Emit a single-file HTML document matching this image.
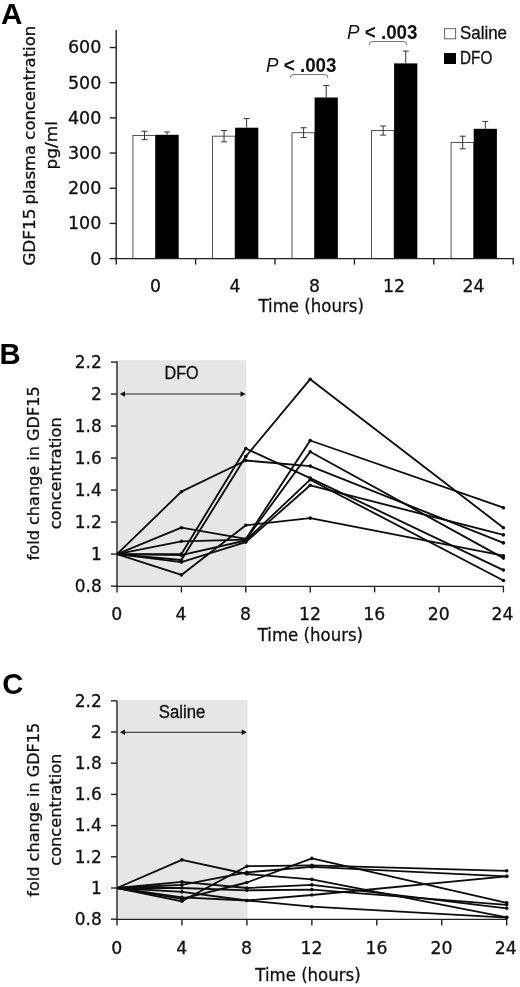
<!DOCTYPE html>
<html lang="en"><head><meta charset="utf-8"><title>GDF15 plasma concentration figure</title>
<style>
html,body{margin:0;padding:0;background:#fff;}
svg{display:block;}
text{white-space:pre;}
</style></head>
<body>
<svg width="520" height="987" viewBox="0 0 520 987">
<rect width="520" height="987" fill="#fff"/>
<text x="1.1" y="23.7" font-size="29.6" font-family='"Liberation Sans",sans-serif' text-anchor="start" fill="#000" font-weight="bold" >A</text>
<rect x="132.9" y="135.5" width="22.6" height="123.1" fill="#fff" stroke="#555" stroke-width="1"/>
<rect x="155.5" y="134.8" width="23.2" height="123.8" fill="#000"/>
<line x1="144.50" y1="131.25" x2="144.50" y2="139.69" stroke="#333" stroke-width="1" />
<line x1="141.50" y1="131.25" x2="147.50" y2="131.25" stroke="#333" stroke-width="1" />
<line x1="141.50" y1="139.69" x2="147.50" y2="139.69" stroke="#333" stroke-width="1" />
<line x1="167.10" y1="131.95" x2="167.10" y2="134.77" stroke="#333" stroke-width="1" />
<line x1="164.10" y1="131.95" x2="170.10" y2="131.95" stroke="#333" stroke-width="1" />
<rect x="212.5" y="136.2" width="22.6" height="122.4" fill="#fff" stroke="#555" stroke-width="1"/>
<rect x="235.1" y="127.7" width="23.2" height="130.9" fill="#000"/>
<line x1="224.05" y1="130.54" x2="224.05" y2="141.80" stroke="#333" stroke-width="1" />
<line x1="221.05" y1="130.54" x2="227.05" y2="130.54" stroke="#333" stroke-width="1" />
<line x1="221.05" y1="141.80" x2="227.05" y2="141.80" stroke="#333" stroke-width="1" />
<line x1="246.65" y1="118.58" x2="246.65" y2="127.73" stroke="#333" stroke-width="1" />
<line x1="243.65" y1="118.58" x2="249.65" y2="118.58" stroke="#333" stroke-width="1" />
<rect x="292.0" y="132.7" width="22.6" height="125.9" fill="#fff" stroke="#555" stroke-width="1"/>
<rect x="314.6" y="97.5" width="23.2" height="161.1" fill="#000"/>
<line x1="303.60" y1="127.73" x2="303.60" y2="137.58" stroke="#333" stroke-width="1" />
<line x1="300.60" y1="127.73" x2="306.60" y2="127.73" stroke="#333" stroke-width="1" />
<line x1="300.60" y1="137.58" x2="306.60" y2="137.58" stroke="#333" stroke-width="1" />
<line x1="326.20" y1="85.51" x2="326.20" y2="97.48" stroke="#333" stroke-width="1" />
<line x1="323.20" y1="85.51" x2="329.20" y2="85.51" stroke="#333" stroke-width="1" />
<rect x="371.5" y="130.5" width="22.6" height="128.1" fill="#fff" stroke="#555" stroke-width="1"/>
<rect x="394.1" y="63.4" width="23.2" height="195.2" fill="#000"/>
<line x1="383.15" y1="125.97" x2="383.15" y2="135.12" stroke="#333" stroke-width="1" />
<line x1="380.15" y1="125.97" x2="386.15" y2="125.97" stroke="#333" stroke-width="1" />
<line x1="380.15" y1="135.12" x2="386.15" y2="135.12" stroke="#333" stroke-width="1" />
<line x1="405.75" y1="51.04" x2="405.75" y2="63.35" stroke="#333" stroke-width="1" />
<line x1="402.75" y1="51.04" x2="408.75" y2="51.04" stroke="#333" stroke-width="1" />
<rect x="451.1" y="142.5" width="22.6" height="116.1" fill="#fff" stroke="#555" stroke-width="1"/>
<rect x="473.7" y="128.8" width="23.2" height="129.8" fill="#000"/>
<line x1="462.70" y1="136.17" x2="462.70" y2="148.84" stroke="#333" stroke-width="1" />
<line x1="459.70" y1="136.17" x2="465.70" y2="136.17" stroke="#333" stroke-width="1" />
<line x1="459.70" y1="148.84" x2="465.70" y2="148.84" stroke="#333" stroke-width="1" />
<line x1="485.30" y1="121.40" x2="485.30" y2="128.79" stroke="#333" stroke-width="1" />
<line x1="482.30" y1="121.40" x2="488.30" y2="121.40" stroke="#333" stroke-width="1" />
<line x1="116.20" y1="30.00" x2="116.20" y2="259.20" stroke="#222" stroke-width="1.4" />
<line x1="115.50" y1="258.60" x2="513.80" y2="258.60" stroke="#222" stroke-width="1.4" />
<line x1="109.70" y1="258.60" x2="116.20" y2="258.60" stroke="#222" stroke-width="1.4" />
<text x="101.3" y="264.5" font-size="17.5" font-family='"DejaVu Sans","Liberation Sans",sans-serif' text-anchor="end" fill="#111" stroke="#111" stroke-width="0.3" >0</text>
<line x1="109.70" y1="223.42" x2="116.20" y2="223.42" stroke="#222" stroke-width="1.4" />
<text x="101.3" y="229.32" font-size="17.5" font-family='"DejaVu Sans","Liberation Sans",sans-serif' text-anchor="end" fill="#111" stroke="#111" stroke-width="0.3" >100</text>
<line x1="109.70" y1="188.24" x2="116.20" y2="188.24" stroke="#222" stroke-width="1.4" />
<text x="101.3" y="194.14" font-size="17.5" font-family='"DejaVu Sans","Liberation Sans",sans-serif' text-anchor="end" fill="#111" stroke="#111" stroke-width="0.3" >200</text>
<line x1="109.70" y1="153.06" x2="116.20" y2="153.06" stroke="#222" stroke-width="1.4" />
<text x="101.3" y="158.96" font-size="17.5" font-family='"DejaVu Sans","Liberation Sans",sans-serif' text-anchor="end" fill="#111" stroke="#111" stroke-width="0.3" >300</text>
<line x1="109.70" y1="117.88" x2="116.20" y2="117.88" stroke="#222" stroke-width="1.4" />
<text x="101.3" y="123.78" font-size="17.5" font-family='"DejaVu Sans","Liberation Sans",sans-serif' text-anchor="end" fill="#111" stroke="#111" stroke-width="0.3" >400</text>
<line x1="109.70" y1="82.70" x2="116.20" y2="82.70" stroke="#222" stroke-width="1.4" />
<text x="101.3" y="88.6" font-size="17.5" font-family='"DejaVu Sans","Liberation Sans",sans-serif' text-anchor="end" fill="#111" stroke="#111" stroke-width="0.3" >500</text>
<line x1="109.70" y1="47.52" x2="116.20" y2="47.52" stroke="#222" stroke-width="1.4" />
<text x="101.3" y="53.42" font-size="17.5" font-family='"DejaVu Sans","Liberation Sans",sans-serif' text-anchor="end" fill="#111" stroke="#111" stroke-width="0.3" >600</text>
<line x1="116.20" y1="258.60" x2="116.20" y2="264.60" stroke="#222" stroke-width="1.4" />
<line x1="195.60" y1="258.60" x2="195.60" y2="264.60" stroke="#222" stroke-width="1.4" />
<line x1="275.00" y1="258.60" x2="275.00" y2="264.60" stroke="#222" stroke-width="1.4" />
<line x1="354.40" y1="258.60" x2="354.40" y2="264.60" stroke="#222" stroke-width="1.4" />
<line x1="433.80" y1="258.60" x2="433.80" y2="264.60" stroke="#222" stroke-width="1.4" />
<line x1="513.20" y1="258.60" x2="513.20" y2="264.60" stroke="#222" stroke-width="1.4" />
<text x="155.4" y="292" font-size="17.3" font-family='"DejaVu Sans","Liberation Sans",sans-serif' text-anchor="middle" fill="#111" stroke="#111" stroke-width="0.3" >0</text>
<text x="234.95" y="292" font-size="17.3" font-family='"DejaVu Sans","Liberation Sans",sans-serif' text-anchor="middle" fill="#111" stroke="#111" stroke-width="0.3" >4</text>
<text x="314.5" y="292" font-size="17.3" font-family='"DejaVu Sans","Liberation Sans",sans-serif' text-anchor="middle" fill="#111" stroke="#111" stroke-width="0.3" >8</text>
<text x="394.05" y="292" font-size="17.3" font-family='"DejaVu Sans","Liberation Sans",sans-serif' text-anchor="middle" fill="#111" stroke="#111" stroke-width="0.3" >12</text>
<text x="473.6" y="292" font-size="17.3" font-family='"DejaVu Sans","Liberation Sans",sans-serif' text-anchor="middle" fill="#111" stroke="#111" stroke-width="0.3" >24</text>
<text x="311.2" y="311.5" font-size="17" font-family='"DejaVu Sans","Liberation Sans",sans-serif' text-anchor="middle" fill="#111" textLength="105.5" lengthAdjust="spacingAndGlyphs" stroke="#111" stroke-width="0.3" >Time (hours)</text>
<text x="35.2" y="265.8" font-size="16.6" font-family='"DejaVu Sans","Liberation Sans",sans-serif' text-anchor="start" fill="#111" textLength="57.4" lengthAdjust="spacingAndGlyphs" transform="rotate(-90 35.2 265.8)" stroke="#111" stroke-width="0.3" >GDF15</text>
<text x="35.2" y="204.5" font-size="16.6" font-family='"DejaVu Sans","Liberation Sans",sans-serif' text-anchor="start" fill="#111" textLength="178.6" lengthAdjust="spacingAndGlyphs" transform="rotate(-90 35.2 204.5)" stroke="#111" stroke-width="0.3" >plasma concentration</text>
<text x="57" y="145.2" font-size="16.6" font-family='"DejaVu Sans","Liberation Sans",sans-serif' text-anchor="middle" fill="#111" textLength="48.5" lengthAdjust="spacingAndGlyphs" transform="rotate(-90 57 145.2)" stroke="#111" stroke-width="0.3" >pg/ml</text>
<text x="266" y="71.5" font-size="19.6" font-family='"Liberation Sans",sans-serif' fill="#111" textLength="70.5" lengthAdjust="spacingAndGlyphs"><tspan font-style="italic">P</tspan><tspan font-weight="bold"> &lt; .003</tspan></text>
<text x="347" y="38.5" font-size="19.6" font-family='"Liberation Sans",sans-serif' fill="#111" textLength="70.5" lengthAdjust="spacingAndGlyphs"><tspan font-style="italic">P</tspan><tspan font-weight="bold"> &lt; .003</tspan></text>
<path d="M290 78.0 Q290 74.5 294 74.5 L324 74.5 Q328 74.5 328 78.0" fill="none" stroke="#777" stroke-width="1"/>
<path d="M369 45.0 Q369 41.5 373 41.5 L403 41.5 Q407 41.5 407 45.0" fill="none" stroke="#777" stroke-width="1"/>
<rect x="444.6" y="28.6" width="11" height="10.2" fill="#fff" stroke="#666" stroke-width="1"/>
<rect x="444" y="53" width="12" height="11" fill="#000"/>
<text x="460" y="39" font-size="17.8" font-family='"Liberation Sans",sans-serif' text-anchor="start" fill="#111" textLength="47" lengthAdjust="spacingAndGlyphs" stroke="#111" stroke-width="0.3" >Saline</text>
<text x="460" y="63.8" font-size="17.8" font-family='"Liberation Sans",sans-serif' text-anchor="start" fill="#111" textLength="32.3" lengthAdjust="spacingAndGlyphs" stroke="#111" stroke-width="0.3" >DFO</text>
<rect x="117.0" y="360.2" width="129.3" height="226.2" fill="#e6e6e6"/>
<text x="-0.4" y="364.3" font-size="29.2" font-family='"Liberation Sans",sans-serif' text-anchor="start" fill="#000" font-weight="bold" >B</text>
<line x1="117.00" y1="361.20" x2="117.00" y2="587.00" stroke="#222" stroke-width="1.4" />
<line x1="116.30" y1="586.40" x2="504.10" y2="586.40" stroke="#222" stroke-width="1.4" />
<line x1="111.00" y1="586.10" x2="117.00" y2="586.10" stroke="#222" stroke-width="1.4" />
<text x="101.8" y="591.8" font-size="17" font-family='"DejaVu Sans","Liberation Sans",sans-serif' text-anchor="end" fill="#111" stroke="#111" stroke-width="0.3" >0.8</text>
<line x1="111.00" y1="554.10" x2="117.00" y2="554.10" stroke="#222" stroke-width="1.4" />
<text x="101.8" y="559.8" font-size="17" font-family='"DejaVu Sans","Liberation Sans",sans-serif' text-anchor="end" fill="#111" stroke="#111" stroke-width="0.3" >1</text>
<line x1="111.00" y1="522.10" x2="117.00" y2="522.10" stroke="#222" stroke-width="1.4" />
<text x="101.8" y="527.8" font-size="17" font-family='"DejaVu Sans","Liberation Sans",sans-serif' text-anchor="end" fill="#111" stroke="#111" stroke-width="0.3" >1.2</text>
<line x1="111.00" y1="490.10" x2="117.00" y2="490.10" stroke="#222" stroke-width="1.4" />
<text x="101.8" y="495.8" font-size="17" font-family='"DejaVu Sans","Liberation Sans",sans-serif' text-anchor="end" fill="#111" stroke="#111" stroke-width="0.3" >1.4</text>
<line x1="111.00" y1="458.10" x2="117.00" y2="458.10" stroke="#222" stroke-width="1.4" />
<text x="101.8" y="463.8" font-size="17" font-family='"DejaVu Sans","Liberation Sans",sans-serif' text-anchor="end" fill="#111" stroke="#111" stroke-width="0.3" >1.6</text>
<line x1="111.00" y1="426.10" x2="117.00" y2="426.10" stroke="#222" stroke-width="1.4" />
<text x="101.8" y="431.8" font-size="17" font-family='"DejaVu Sans","Liberation Sans",sans-serif' text-anchor="end" fill="#111" stroke="#111" stroke-width="0.3" >1.8</text>
<line x1="111.00" y1="394.10" x2="117.00" y2="394.10" stroke="#222" stroke-width="1.4" />
<text x="101.8" y="399.8" font-size="17" font-family='"DejaVu Sans","Liberation Sans",sans-serif' text-anchor="end" fill="#111" stroke="#111" stroke-width="0.3" >2</text>
<line x1="111.00" y1="362.10" x2="117.00" y2="362.10" stroke="#222" stroke-width="1.4" />
<text x="101.8" y="367.8" font-size="17" font-family='"DejaVu Sans","Liberation Sans",sans-serif' text-anchor="end" fill="#111" stroke="#111" stroke-width="0.3" >2.2</text>
<line x1="117.00" y1="586.40" x2="117.00" y2="592.40" stroke="#222" stroke-width="1.4" />
<text x="116.7" y="620.2" font-size="17.3" font-family='"DejaVu Sans","Liberation Sans",sans-serif' text-anchor="middle" fill="#111" stroke="#111" stroke-width="0.3" >0</text>
<line x1="181.40" y1="586.40" x2="181.40" y2="592.40" stroke="#222" stroke-width="1.4" />
<text x="181.1" y="620.2" font-size="17.3" font-family='"DejaVu Sans","Liberation Sans",sans-serif' text-anchor="middle" fill="#111" stroke="#111" stroke-width="0.3" >4</text>
<line x1="245.80" y1="586.40" x2="245.80" y2="592.40" stroke="#222" stroke-width="1.4" />
<text x="245.5" y="620.2" font-size="17.3" font-family='"DejaVu Sans","Liberation Sans",sans-serif' text-anchor="middle" fill="#111" stroke="#111" stroke-width="0.3" >8</text>
<line x1="310.20" y1="586.40" x2="310.20" y2="592.40" stroke="#222" stroke-width="1.4" />
<text x="309.9" y="620.2" font-size="17.3" font-family='"DejaVu Sans","Liberation Sans",sans-serif' text-anchor="middle" fill="#111" stroke="#111" stroke-width="0.3" >12</text>
<line x1="374.60" y1="586.40" x2="374.60" y2="592.40" stroke="#222" stroke-width="1.4" />
<text x="374.3" y="620.2" font-size="17.3" font-family='"DejaVu Sans","Liberation Sans",sans-serif' text-anchor="middle" fill="#111" stroke="#111" stroke-width="0.3" >16</text>
<line x1="439.00" y1="586.40" x2="439.00" y2="592.40" stroke="#222" stroke-width="1.4" />
<text x="438.7" y="620.2" font-size="17.3" font-family='"DejaVu Sans","Liberation Sans",sans-serif' text-anchor="middle" fill="#111" stroke="#111" stroke-width="0.3" >20</text>
<line x1="503.40" y1="586.40" x2="503.40" y2="592.40" stroke="#222" stroke-width="1.4" />
<text x="502.4" y="620.2" font-size="17.3" font-family='"DejaVu Sans","Liberation Sans",sans-serif' text-anchor="middle" fill="#111" stroke="#111" stroke-width="0.3" >24</text>
<text x="310.4" y="640.6" font-size="17" font-family='"DejaVu Sans","Liberation Sans",sans-serif' text-anchor="middle" fill="#111" textLength="105.3" lengthAdjust="spacingAndGlyphs" stroke="#111" stroke-width="0.3" >Time (hours)</text>
<text x="39.2" y="473.3" font-size="16.5" font-family='"DejaVu Sans","Liberation Sans",sans-serif' text-anchor="middle" fill="#111" textLength="174" lengthAdjust="spacingAndGlyphs" transform="rotate(-90 39.2 473.3)" stroke="#111" stroke-width="0.3" >fold change in GDF15</text>
<text x="60.7" y="473.3" font-size="16.5" font-family='"DejaVu Sans","Liberation Sans",sans-serif' text-anchor="middle" fill="#111" textLength="112" lengthAdjust="spacingAndGlyphs" transform="rotate(-90 60.7 473.3)" stroke="#111" stroke-width="0.3" >concentration</text>
<text x="181.5" y="378.5" font-size="17.6" font-family='"Liberation Sans",sans-serif' text-anchor="middle" fill="#111" textLength="34" lengthAdjust="spacingAndGlyphs" stroke="#111" stroke-width="0.3" >DFO</text>
<line x1="122.80" y1="394.00" x2="242.70" y2="394.00" stroke="#222" stroke-width="1" />
<path d="M119.8 394 l5.2 -2.8 v5.6z M245.70000000000002 394 l-5.2 -2.8 v5.6z" fill="#111"/>
<polyline fill="none" stroke="#0c0c0c" stroke-width="1.85" stroke-linejoin="round" points="117.0,554.1 181.4,491.7 245.8,460.5 310.2,466.1 503.4,542.9"/>
<circle cx="181.4" cy="491.7" r="1.8" fill="#0c0c0c"/>
<circle cx="245.8" cy="460.5" r="1.8" fill="#0c0c0c"/>
<circle cx="310.2" cy="466.1" r="1.8" fill="#0c0c0c"/>
<circle cx="503.4" cy="542.9" r="1.8" fill="#0c0c0c"/>
<polyline fill="none" stroke="#0c0c0c" stroke-width="1.85" stroke-linejoin="round" points="117.0,554.1 181.4,554.1 245.8,448.5 310.2,478.1 503.4,570.1"/>
<circle cx="181.4" cy="554.1" r="1.8" fill="#0c0c0c"/>
<circle cx="245.8" cy="448.5" r="1.8" fill="#0c0c0c"/>
<circle cx="310.2" cy="478.1" r="1.8" fill="#0c0c0c"/>
<circle cx="503.4" cy="570.1" r="1.8" fill="#0c0c0c"/>
<polyline fill="none" stroke="#0c0c0c" stroke-width="1.85" stroke-linejoin="round" points="117.0,554.1 181.4,560.0 245.8,456.5 310.2,379.2 503.4,527.7"/>
<circle cx="181.4" cy="560.0" r="1.8" fill="#0c0c0c"/>
<circle cx="245.8" cy="456.5" r="1.8" fill="#0c0c0c"/>
<circle cx="310.2" cy="379.2" r="1.8" fill="#0c0c0c"/>
<circle cx="503.4" cy="527.7" r="1.8" fill="#0c0c0c"/>
<polyline fill="none" stroke="#0c0c0c" stroke-width="1.85" stroke-linejoin="round" points="117.0,554.1 181.4,574.9 245.8,525.3 310.2,518.1 503.4,555.7"/>
<circle cx="181.4" cy="574.9" r="1.8" fill="#0c0c0c"/>
<circle cx="245.8" cy="525.3" r="1.8" fill="#0c0c0c"/>
<circle cx="310.2" cy="518.1" r="1.8" fill="#0c0c0c"/>
<circle cx="503.4" cy="555.7" r="1.8" fill="#0c0c0c"/>
<polyline fill="none" stroke="#0c0c0c" stroke-width="1.85" stroke-linejoin="round" points="117.0,554.1 181.4,527.7 245.8,538.9 310.2,440.5 503.4,507.7"/>
<circle cx="181.4" cy="527.7" r="1.8" fill="#0c0c0c"/>
<circle cx="245.8" cy="538.9" r="1.8" fill="#0c0c0c"/>
<circle cx="310.2" cy="440.5" r="1.8" fill="#0c0c0c"/>
<circle cx="503.4" cy="507.7" r="1.8" fill="#0c0c0c"/>
<polyline fill="none" stroke="#0c0c0c" stroke-width="1.85" stroke-linejoin="round" points="117.0,554.1 181.4,541.3 245.8,539.7 310.2,451.7 503.4,558.1"/>
<circle cx="181.4" cy="541.3" r="1.8" fill="#0c0c0c"/>
<circle cx="245.8" cy="539.7" r="1.8" fill="#0c0c0c"/>
<circle cx="310.2" cy="451.7" r="1.8" fill="#0c0c0c"/>
<circle cx="503.4" cy="558.1" r="1.8" fill="#0c0c0c"/>
<polyline fill="none" stroke="#0c0c0c" stroke-width="1.85" stroke-linejoin="round" points="117.0,554.1 181.4,555.2 245.8,540.5 310.2,479.7 503.4,580.5"/>
<circle cx="181.4" cy="555.2" r="1.8" fill="#0c0c0c"/>
<circle cx="245.8" cy="540.5" r="1.8" fill="#0c0c0c"/>
<circle cx="310.2" cy="479.7" r="1.8" fill="#0c0c0c"/>
<circle cx="503.4" cy="580.5" r="1.8" fill="#0c0c0c"/>
<polyline fill="none" stroke="#0c0c0c" stroke-width="1.85" stroke-linejoin="round" points="117.0,554.1 181.4,562.1 245.8,542.1 310.2,485.3 503.4,534.9"/>
<circle cx="181.4" cy="562.1" r="1.8" fill="#0c0c0c"/>
<circle cx="245.8" cy="542.1" r="1.8" fill="#0c0c0c"/>
<circle cx="310.2" cy="485.3" r="1.8" fill="#0c0c0c"/>
<circle cx="503.4" cy="534.9" r="1.8" fill="#0c0c0c"/>
<rect x="117.0" y="700" width="130.5" height="219.39999999999998" fill="#e6e6e6"/>
<text x="2.2" y="694.3" font-size="29.2" font-family='"Liberation Sans",sans-serif' text-anchor="start" fill="#000" font-weight="bold" >C</text>
<line x1="117.00" y1="701.00" x2="117.00" y2="920.00" stroke="#222" stroke-width="1.4" />
<line x1="116.30" y1="919.40" x2="507.40" y2="919.40" stroke="#222" stroke-width="1.4" />
<line x1="111.00" y1="919.20" x2="117.00" y2="919.20" stroke="#222" stroke-width="1.4" />
<text x="101.8" y="924.9" font-size="17" font-family='"DejaVu Sans","Liberation Sans",sans-serif' text-anchor="end" fill="#111" stroke="#111" stroke-width="0.3" >0.8</text>
<line x1="111.00" y1="888.00" x2="117.00" y2="888.00" stroke="#222" stroke-width="1.4" />
<text x="101.8" y="893.7" font-size="17" font-family='"DejaVu Sans","Liberation Sans",sans-serif' text-anchor="end" fill="#111" stroke="#111" stroke-width="0.3" >1</text>
<line x1="111.00" y1="856.80" x2="117.00" y2="856.80" stroke="#222" stroke-width="1.4" />
<text x="101.8" y="862.5" font-size="17" font-family='"DejaVu Sans","Liberation Sans",sans-serif' text-anchor="end" fill="#111" stroke="#111" stroke-width="0.3" >1.2</text>
<line x1="111.00" y1="825.60" x2="117.00" y2="825.60" stroke="#222" stroke-width="1.4" />
<text x="101.8" y="831.3" font-size="17" font-family='"DejaVu Sans","Liberation Sans",sans-serif' text-anchor="end" fill="#111" stroke="#111" stroke-width="0.3" >1.4</text>
<line x1="111.00" y1="794.40" x2="117.00" y2="794.40" stroke="#222" stroke-width="1.4" />
<text x="101.8" y="800.1" font-size="17" font-family='"DejaVu Sans","Liberation Sans",sans-serif' text-anchor="end" fill="#111" stroke="#111" stroke-width="0.3" >1.6</text>
<line x1="111.00" y1="763.20" x2="117.00" y2="763.20" stroke="#222" stroke-width="1.4" />
<text x="101.8" y="768.9" font-size="17" font-family='"DejaVu Sans","Liberation Sans",sans-serif' text-anchor="end" fill="#111" stroke="#111" stroke-width="0.3" >1.8</text>
<line x1="111.00" y1="732.00" x2="117.00" y2="732.00" stroke="#222" stroke-width="1.4" />
<text x="101.8" y="737.7" font-size="17" font-family='"DejaVu Sans","Liberation Sans",sans-serif' text-anchor="end" fill="#111" stroke="#111" stroke-width="0.3" >2</text>
<line x1="111.00" y1="700.80" x2="117.00" y2="700.80" stroke="#222" stroke-width="1.4" />
<text x="101.8" y="706.5" font-size="17" font-family='"DejaVu Sans","Liberation Sans",sans-serif' text-anchor="end" fill="#111" stroke="#111" stroke-width="0.3" >2.2</text>
<line x1="117.00" y1="919.40" x2="117.00" y2="925.40" stroke="#222" stroke-width="1.4" />
<text x="116.7" y="953.8" font-size="17.3" font-family='"DejaVu Sans","Liberation Sans",sans-serif' text-anchor="middle" fill="#111" stroke="#111" stroke-width="0.3" >0</text>
<line x1="181.95" y1="919.40" x2="181.95" y2="925.40" stroke="#222" stroke-width="1.4" />
<text x="181.65" y="953.8" font-size="17.3" font-family='"DejaVu Sans","Liberation Sans",sans-serif' text-anchor="middle" fill="#111" stroke="#111" stroke-width="0.3" >4</text>
<line x1="246.90" y1="919.40" x2="246.90" y2="925.40" stroke="#222" stroke-width="1.4" />
<text x="246.6" y="953.8" font-size="17.3" font-family='"DejaVu Sans","Liberation Sans",sans-serif' text-anchor="middle" fill="#111" stroke="#111" stroke-width="0.3" >8</text>
<line x1="311.85" y1="919.40" x2="311.85" y2="925.40" stroke="#222" stroke-width="1.4" />
<text x="311.55" y="953.8" font-size="17.3" font-family='"DejaVu Sans","Liberation Sans",sans-serif' text-anchor="middle" fill="#111" stroke="#111" stroke-width="0.3" >12</text>
<line x1="376.80" y1="919.40" x2="376.80" y2="925.40" stroke="#222" stroke-width="1.4" />
<text x="376.5" y="953.8" font-size="17.3" font-family='"DejaVu Sans","Liberation Sans",sans-serif' text-anchor="middle" fill="#111" stroke="#111" stroke-width="0.3" >16</text>
<line x1="441.75" y1="919.40" x2="441.75" y2="925.40" stroke="#222" stroke-width="1.4" />
<text x="441.45" y="953.8" font-size="17.3" font-family='"DejaVu Sans","Liberation Sans",sans-serif' text-anchor="middle" fill="#111" stroke="#111" stroke-width="0.3" >20</text>
<line x1="506.70" y1="919.40" x2="506.70" y2="925.40" stroke="#222" stroke-width="1.4" />
<text x="505.7" y="953.8" font-size="17.3" font-family='"DejaVu Sans","Liberation Sans",sans-serif' text-anchor="middle" fill="#111" stroke="#111" stroke-width="0.3" >24</text>
<text x="308" y="980.5" font-size="17" font-family='"DejaVu Sans","Liberation Sans",sans-serif' text-anchor="middle" fill="#111" textLength="105.3" lengthAdjust="spacingAndGlyphs" stroke="#111" stroke-width="0.3" >Time (hours)</text>
<text x="39.2" y="809.7" font-size="16.5" font-family='"DejaVu Sans","Liberation Sans",sans-serif' text-anchor="middle" fill="#111" textLength="174" lengthAdjust="spacingAndGlyphs" transform="rotate(-90 39.2 809.7)" stroke="#111" stroke-width="0.3" >fold change in GDF15</text>
<text x="60.7" y="809.7" font-size="16.5" font-family='"DejaVu Sans","Liberation Sans",sans-serif' text-anchor="middle" fill="#111" textLength="112" lengthAdjust="spacingAndGlyphs" transform="rotate(-90 60.7 809.7)" stroke="#111" stroke-width="0.3" >concentration</text>
<text x="182" y="717.9" font-size="17.6" font-family='"Liberation Sans",sans-serif' text-anchor="middle" fill="#111" textLength="46.5" lengthAdjust="spacingAndGlyphs" stroke="#111" stroke-width="0.3" >Saline</text>
<line x1="122.80" y1="732.30" x2="243.90" y2="732.30" stroke="#222" stroke-width="1" />
<path d="M119.8 732.3 l5.2 -2.8 v5.6z M246.9 732.3 l-5.2 -2.8 v5.6z" fill="#111"/>
<polyline fill="none" stroke="#0c0c0c" stroke-width="1.85" stroke-linejoin="round" points="117.0,888.0 181.9,859.9 246.9,874.0 311.9,879.4 506.7,917.3"/>
<circle cx="181.9" cy="859.9" r="1.8" fill="#0c0c0c"/>
<circle cx="246.9" cy="874.0" r="1.8" fill="#0c0c0c"/>
<circle cx="311.9" cy="879.4" r="1.8" fill="#0c0c0c"/>
<circle cx="506.7" cy="917.3" r="1.8" fill="#0c0c0c"/>
<polyline fill="none" stroke="#0c0c0c" stroke-width="1.85" stroke-linejoin="round" points="117.0,888.0 181.9,901.3 246.9,866.2 311.9,865.4 506.7,870.8"/>
<circle cx="181.9" cy="901.3" r="1.8" fill="#0c0c0c"/>
<circle cx="246.9" cy="866.2" r="1.8" fill="#0c0c0c"/>
<circle cx="311.9" cy="865.4" r="1.8" fill="#0c0c0c"/>
<circle cx="506.7" cy="870.8" r="1.8" fill="#0c0c0c"/>
<polyline fill="none" stroke="#0c0c0c" stroke-width="1.85" stroke-linejoin="round" points="117.0,888.0 181.9,884.9 246.9,872.4 311.9,866.9 506.7,876.3"/>
<circle cx="181.9" cy="884.9" r="1.8" fill="#0c0c0c"/>
<circle cx="246.9" cy="872.4" r="1.8" fill="#0c0c0c"/>
<circle cx="311.9" cy="866.9" r="1.8" fill="#0c0c0c"/>
<circle cx="506.7" cy="876.3" r="1.8" fill="#0c0c0c"/>
<polyline fill="none" stroke="#0c0c0c" stroke-width="1.85" stroke-linejoin="round" points="117.0,888.0 181.9,881.8 246.9,888.0 311.9,884.9 506.7,908.3"/>
<circle cx="181.9" cy="881.8" r="1.8" fill="#0c0c0c"/>
<circle cx="246.9" cy="888.0" r="1.8" fill="#0c0c0c"/>
<circle cx="311.9" cy="884.9" r="1.8" fill="#0c0c0c"/>
<circle cx="506.7" cy="908.3" r="1.8" fill="#0c0c0c"/>
<polyline fill="none" stroke="#0c0c0c" stroke-width="1.85" stroke-linejoin="round" points="117.0,888.0 181.9,888.0 246.9,890.3 311.9,889.6 506.7,904.8"/>
<circle cx="181.9" cy="888.0" r="1.8" fill="#0c0c0c"/>
<circle cx="246.9" cy="890.3" r="1.8" fill="#0c0c0c"/>
<circle cx="311.9" cy="889.6" r="1.8" fill="#0c0c0c"/>
<circle cx="506.7" cy="904.8" r="1.8" fill="#0c0c0c"/>
<polyline fill="none" stroke="#0c0c0c" stroke-width="1.85" stroke-linejoin="round" points="117.0,888.0 181.9,898.9 246.9,882.5 311.9,858.4 506.7,902.8"/>
<circle cx="181.9" cy="898.9" r="1.8" fill="#0c0c0c"/>
<circle cx="246.9" cy="882.5" r="1.8" fill="#0c0c0c"/>
<circle cx="311.9" cy="858.4" r="1.8" fill="#0c0c0c"/>
<circle cx="506.7" cy="902.8" r="1.8" fill="#0c0c0c"/>
<polyline fill="none" stroke="#0c0c0c" stroke-width="1.85" stroke-linejoin="round" points="117.0,888.0 181.9,891.9 246.9,900.5 311.9,895.0 506.7,876.3"/>
<circle cx="181.9" cy="891.9" r="1.8" fill="#0c0c0c"/>
<circle cx="246.9" cy="900.5" r="1.8" fill="#0c0c0c"/>
<circle cx="311.9" cy="895.0" r="1.8" fill="#0c0c0c"/>
<circle cx="506.7" cy="876.3" r="1.8" fill="#0c0c0c"/>
<polyline fill="none" stroke="#0c0c0c" stroke-width="1.85" stroke-linejoin="round" points="117.0,888.0 181.9,897.4 246.9,900.5 311.9,906.7 506.7,917.6"/>
<circle cx="181.9" cy="897.4" r="1.8" fill="#0c0c0c"/>
<circle cx="246.9" cy="900.5" r="1.8" fill="#0c0c0c"/>
<circle cx="311.9" cy="906.7" r="1.8" fill="#0c0c0c"/>
<circle cx="506.7" cy="917.6" r="1.8" fill="#0c0c0c"/>
</svg>
</body></html>
